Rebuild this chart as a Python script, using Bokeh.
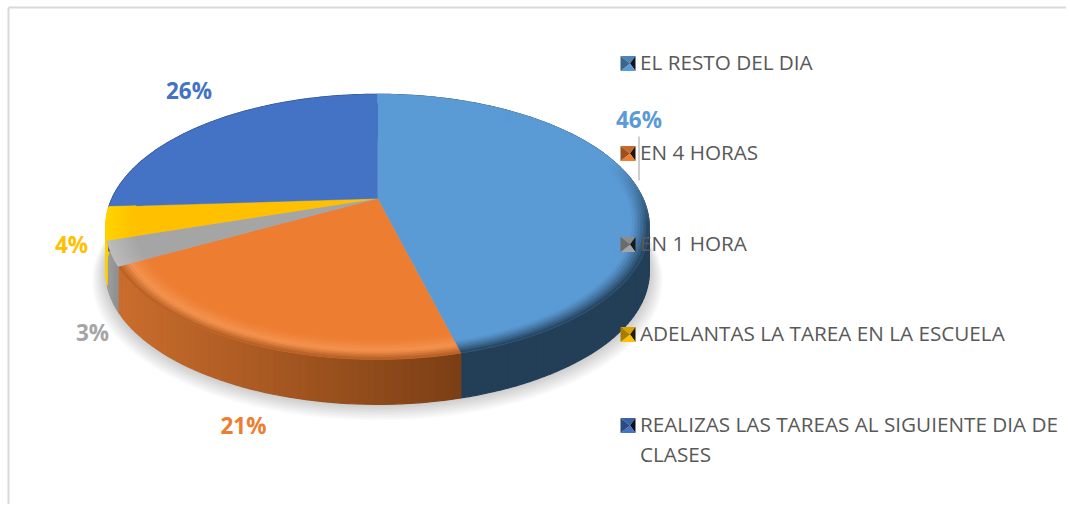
import math
from bokeh.embed import file_html
from bokeh.models import Range1d
from bokeh.plotting import figure
from bokeh.resources import INLINE
from bokeh.core.properties import value

categories = ["EL RESTO DEL DIA", "EN 4 HORAS", "EN 1 HORA",
              "ADELANTAS LA TAREA EN LA ESCUELA",
              "REALIZAS LAS TAREAS AL SIGUIENTE DIA DE CLASES"]
values = [46, 21, 3, 4, 26]
labels = ["46%", "21%", "3%", "4%", "26%"]
top_colors = ["#5B9BD5", "#ED7D31", "#A5A5A5", "#FFC000", "#4472C4"]
side_colors = ["#233F58", "#A5561F", "#8C8C8C", "#FFD000", "#2B4A80"]
label_x = [638.5, 243, 92, 71, 188.5]
label_y = [119, 425, 332, 244, 90]
legend_y = [61, 151, 242, 332, 423]

W, H = 1066, 504
p = figure(width=W, height=H, x_range=Range1d(0, W), y_range=Range1d(H, 0),
           output_backend="svg", toolbar_location=None, min_border=0)
p.axis.visible = False
p.grid.visible = False
p.outline_line_color = None
p.background_fill_color = "#FFFFFF"

AX, AY, A, B, K, DEPTH = 377.0, 198.0, 265.5, 126.5, 0.2135, 45.0


def pt(theta, r=1.0):
    X, Y = r * math.sin(theta), -r * math.cos(theta)
    w = 1 - K * Y
    return AX + A * X / w, AY + B * Y / w


def hex2rgb(c):
    return tuple(int(c[i:i + 2], 16) for i in (1, 3, 5))


def mix(c1, c2, t):
    a, b = hex2rgb(c1), hex2rgb(c2)
    t = max(0.0, min(1.0, t))
    return "#%02X%02X%02X" % tuple(round(a[i] + (b[i] - a[i]) * t) for i in range(3))


# slice limits
total = sum(values)
starts, ends, acc = [], [], 0
for v in values:
    starts.append(2 * math.pi * acc / total)
    acc += v
    ends.append(2 * math.pi * acc / total)


def steps(a, b, d=math.radians(1.5)):
    n = max(2, int(math.ceil((b - a) / d)))
    return [a + (b - a) * i / n for i in range(n + 1)]


# soft shadow under the pie
sx, sy = [], []
ring = steps(0, 2 * math.pi, math.radians(3))
for i in range(1, 11):
    f = 1 + i * 0.005
    sx.append([AX + (pt(t)[0] - AX) * f for t in ring])
    sy.append([AY + (pt(t)[1] - AY) * f + DEPTH + i * 0.8 for t in ring])
p.patches(sx, sy, fill_color="#000000", fill_alpha=0.02, line_color=None)

# side wall
qx, qy, qc = [], [], []
for i in range(len(values)):
    ts = steps(starts[i], ends[i])
    for a, b in zip(ts[:-1], ts[1:]):
        x1, y1 = pt(a)
        x2, y2 = pt(b)
        c = side_colors[i]
        m = (x1 + x2) / 2
        if i == 1:  # orange wall goes darker to the right
            c = mix("#C96C2C", "#7A3E14", (m - 125) / 340)
        elif i == 2:
            c = mix("#A0A0A0", "#868686", (m - 105) / 18)
        qx.append([x1, x2, x2, x1])
        qy.append([y1, y2, y2 + DEPTH, y1 + DEPTH])
        qc.append(c)
p.patches(qx, qy, fill_color=qc, line_color=qc, line_width=1.2)

# top face
wx, wy, wc = [], [], []
for i in range(len(values)):
    ts = steps(starts[i], ends[i])
    pts = [pt(t, 1.0) for t in ts]
    wx.append([AX] + [q[0] for q in pts])
    wy.append([AY] + [q[1] for q in pts])
    wc.append(top_colors[i])
p.patches(wx, wy, fill_color=wc, line_color=wc, line_width=0.4)

# bevel near the rim of the top face
bands = [0.90 + 0.01 * k for k in range(11)]
bx, by, bc = [], [], []
for i in range(len(values)):
    ts = steps(starts[i], ends[i])
    for a, b in zip(ts[:-1], ts[1:]):
        mid = (a + b) / 2
        front = max(0.0, min(1.0, (-math.cos(mid) + 0.3) / 0.5))
        for r1, r2 in zip(bands[:-1], bands[1:]):
            u = ((r1 + r2) / 2 - 0.90) / 0.10
            if i == 1:
                if u < 0.6:
                    c = mix(top_colors[i], "#F4934F", front * u / 0.6)
                else:
                    c = mix("#F4934F", "#B05C22", (u - 0.6) / 0.4)
                    c = mix(top_colors[i], c, front)
            elif i == 0:
                c = mix(top_colors[i], "#233F58", front * max(0, (u - 0.35) / 0.65) ** 1.3)
            elif i == 2:
                c = mix(top_colors[i], "#BDBDBD", u)
            elif i == 3:
                c = mix(top_colors[i], "#FFD400", u)
            else:
                continue
            q = [pt(a, r1), pt(b, r1), pt(b, r2), pt(a, r2)]
            bx.append([k[0] for k in q])
            by.append([k[1] for k in q])
            bc.append(c)
p.patches(bx, by, fill_color=bc, line_color=bc, line_width=0.6)

# chart frame
p.line([8, 1066], [7, 7], line_color="#D9D9D9", line_width=2)
p.line([8, 8], [7, 504], line_color="#D9D9D9", line_width=2)

# leader line of the first label
p.line([638.5, 638.5], [136, 180], line_color="#BFBFBF", line_width=1.5)

# legend keys (small pyramids)
tx, ty, tc = [], [], []
for y, col in zip(legend_y, top_colors):
    x0, x1, y0, y1 = 620.0, 635.0, y - 5.5, y + 9.5
    xc, yc = (x0 + x1) / 2 + 2, (y0 + y1) / 2
    faces = [([x0, x1, xc], [y0, y0, yc], mix(col, "#000000", 0.15)),
             ([x1, x1, xc], [y0, y1, yc], mix(col, "#000000", 0.85)),
             ([x0, x1, xc], [y1, y1, yc], col),
             ([x0, x0, xc], [y0, y1, yc], mix(col, "#000000", 0.35))]
    for fx, fy, fc in faces:
        tx.append(fx)
        ty.append(fy)
        tc.append(fc)
p.patches(tx, ty, fill_color=tc, line_color=None)

# legend text
FONT = "Open Sans"
lines, ly = [], []
for name, y in zip(categories, legend_y):
    if name.startswith("REALIZAS"):
        lines += ["REALIZAS LAS TAREAS AL SIGUIENTE DIA DE", "CLASES"]
        ly += [y, y + 30]
    else:
        lines.append(name)
        ly.append(y)
p.text([639.5] * len(lines), ly, text=lines, text_font=value(FONT), text_font_size="20.7px",
       text_color="#595959", text_align="left", text_baseline="middle")

# value labels
p.text(label_x, label_y, text=labels, text_color=top_colors, text_font=value(FONT),
       text_font_size="22.5px", text_font_style="bold", text_align="center", text_baseline="middle")

open("out.html", "w").write(file_html(p, INLINE))
